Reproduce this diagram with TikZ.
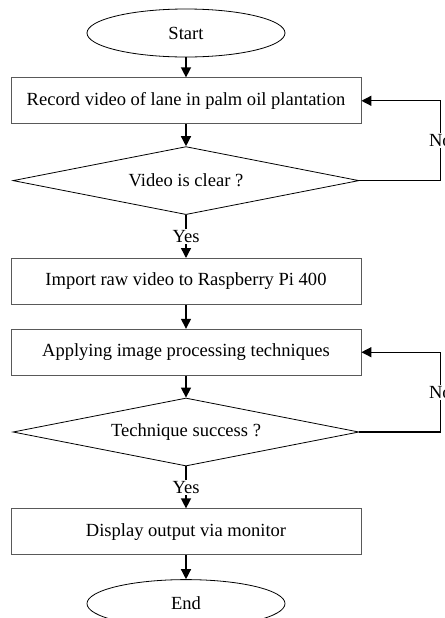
\documentclass[tikz,border=0pt]{standalone}
\usepackage{fontspec}
\setmainfont{Liberation Serif}
\usetikzlibrary{shapes.geometric, arrows.meta, positioning}

\begin{document}
\begin{tikzpicture}[node distance=16.5pt, font=\fontsize{13.9pt}{16pt}\selectfont,
  term/.style={ellipse, draw, line width=0.6pt, minimum width=148.5pt, minimum height=36pt, inner sep=0pt},
  process/.style={rectangle, draw=black!65, line width=0.6pt, minimum width=262.5pt, minimum height=34.5pt, inner sep=0pt},
  decision/.style={diamond, draw, line width=0.6pt, aspect=5, minimum width=259.5pt, minimum height=51pt, inner sep=0pt},
  arrow/.style={-{Triangle[length=7.5pt, width=7.5pt]}, line width=1pt},
  lbl/.style={fill=white, inner sep=1pt}
]
\useasboundingbox (-139.5pt,24.75pt) rectangle (194.25pt,-438.75pt);
\node[term] (start) {Start};
\node[process, below=15pt of start] (rec) {Record video of lane in palm oil plantation};
\node[decision, below=of rec] (clear) {Video is clear ?};
\node[process, below=32.25pt of clear] (imp) {Import raw video to Raspberry Pi 400};
\node[process, below=18pt of imp] (proc) {Applying image processing techniques};
\node[decision, below=of proc] (succ) {Technique success ?};
\node[process, below=31.5pt of succ] (disp) {Display output via monitor};
\node[term, below=18pt of disp] (end) {End};
\draw[arrow] (start) -- (rec);
\draw[arrow] (rec) -- (clear);
\draw[arrow] (clear) -- node[lbl] {Yes} (imp);
\draw[arrow] (imp) -- (proc);
\draw[arrow] (proc) -- (succ);
\draw[arrow] (succ) -- node[lbl] {Yes} (disp);
\draw[arrow] (disp) -- (end);
% loops back
\draw[arrow] (clear.east) -- ++(60.75pt,0) |- node[lbl, pos=0.25] {No} (rec.east);
\draw[arrow] (succ.east) -- ++(60.75pt,0) |- node[lbl, pos=0.25] {No} (proc.east);
\end{tikzpicture}
\end{document}
